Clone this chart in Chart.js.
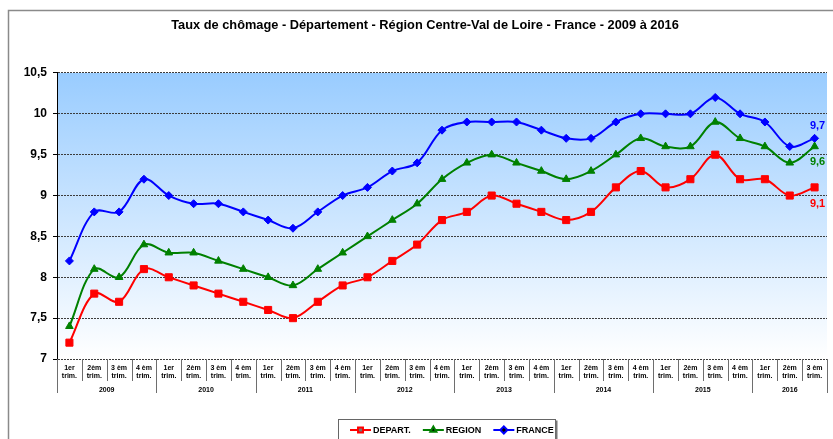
<!DOCTYPE html>
<html lang="fr">
<head>
  <meta charset="UTF-8">
  <title>Taux de chômage</title>
  <script src="https://cdn.jsdelivr.net/npm/chart.js@4"></script>
  <style>
    html, body { margin: 0; padding: 0; background: #fff; }
    #wrap { width: 833px; height: 439px; }
  </style>
</head>
<body>
  <div id="wrap"><canvas id="chart" width="833" height="439"></canvas></div>

  <script>
    // data
    const years = ['2009', '2010', '2011', '2012', '2013', '2014', '2015', '2016'];
    const quarterLabels = [['1er', 'trim.'], ['2èm', 'trim.'], ['3 èm', 'trim.'], ['4 èm', 'trim.']];
    const departValues = [7.2, 7.8, 7.7, 8.1, 8.0, 7.9, 7.8, 7.7, 7.6, 7.5, 7.7, 7.9, 8.0, 8.2, 8.4, 8.7,
                          8.8, 9.0, 8.9, 8.8, 8.7, 8.8, 9.1, 9.3, 9.1, 9.2, 9.5, 9.2, 9.2, 9.0, 9.1];
    const regionValues = [7.4, 8.1, 8.0, 8.4, 8.3, 8.3, 8.2, 8.1, 8.0, 7.9, 8.1, 8.3, 8.5, 8.7, 8.9, 9.2,
                          9.4, 9.5, 9.4, 9.3, 9.2, 9.3, 9.5, 9.7, 9.6, 9.6, 9.9, 9.7, 9.6, 9.4, 9.6];
    const franceValues = [8.2, 8.8, 8.8, 9.2, 9.0, 8.9, 8.9, 8.8, 8.7, 8.6, 8.8, 9.0, 9.1, 9.3, 9.4, 9.8,
                          9.9, 9.9, 9.9, 9.8, 9.7, 9.7, 9.9, 10.0, 10.0, 10.0, 10.2, 10.0, 9.9, 9.6, 9.7];
    const yMin = 7, yMax = 10.5, yStep = 0.5;

    // one category per quarter, 2009 T1 .. 2016 T3
    const categories = [];
    years.forEach(() => quarterLabels.forEach(q => {
      if (categories.length < departValues.length) categories.push(q);
    }));

    const FONT = 'Arial, "Liberation Sans", sans-serif';
    const fmt = v => String(v).replace('.', ',');

    // offset of the value label next to the last point (px, + = below)
    const endLabelOffsets = [17, 15, -12];

    const backgroundPlugin = {
      id: 'background',
      beforeDraw(chart) {
        const { ctx, chartArea: a } = chart;
        ctx.save();
        ctx.fillStyle = '#fff';
        ctx.fillRect(0, 0, chart.width, chart.height);
        // outer frame
        ctx.strokeStyle = '#8a8a8a';
        ctx.lineWidth = 1.5;
        ctx.strokeRect(8.5, 10.5, chart.width + 10, chart.height + 10);
        // plot area gradient
        const g = ctx.createLinearGradient(0, a.top, 0, a.bottom);
        g.addColorStop(0, '#99CCFF');
        g.addColorStop(1, '#FFFFFF');
        ctx.fillStyle = g;
        ctx.fillRect(a.left, a.top, a.right - a.left, a.bottom - a.top);
        ctx.restore();
      }
    };

    const axisExtrasPlugin = {
      id: 'axisExtras',
      afterDraw(chart) {
        const { ctx, chartArea: a } = chart;
        const xs = chart.scales.x;
        const n = categories.length;
        const half = (xs.getPixelForValue(1) - xs.getPixelForValue(0)) / 2;

        ctx.save();
        // category / year separators
        ctx.strokeStyle = '#6e6e6e';
        ctx.lineWidth = 1;
        for (let i = 0; i <= n; i++) {
          const x = Math.round(i < n ? xs.getPixelForValue(i) - half : xs.getPixelForValue(n - 1) + half) + 0.5;
          const isYear = i % 4 === 0 || i === n;
          ctx.beginPath();
          ctx.moveTo(x, a.bottom);
          ctx.lineTo(x, a.bottom + (isYear ? 34 : 22));
          ctx.stroke();
        }
        // year labels
        ctx.fillStyle = '#000';
        ctx.font = 'bold 7px ' + FONT;
        ctx.textAlign = 'center';
        ctx.textBaseline = 'middle';
        years.forEach((y, k) => {
          const first = k * 4;
          const last = Math.min(first + 3, n - 1);
          if (first >= n) return;
          const x = (xs.getPixelForValue(first) + xs.getPixelForValue(last)) / 2;
          ctx.fillText(y, x, a.bottom + 31);
        });

        // value labels at the end of each series
        ctx.font = 'bold 11px ' + FONT;
        chart.data.datasets.forEach((ds, i) => {
          const meta = chart.getDatasetMeta(i);
          const last = meta.data.length - 1;
          const pt = meta.data[last];
          ctx.fillStyle = ds.borderColor;
          ctx.fillText(fmt(ds.data[last]), pt.x + 3, pt.y + endLabelOffsets[i]);
        });

        // legend box
        const bx = 338.5, by = 419.5;
        ctx.strokeStyle = '#666';
        ctx.lineWidth = 1;
        ctx.strokeRect(bx, by, 217, 30);
        ctx.fillStyle = '#777';
        ctx.fillRect(bx + 217, by + 1, 2, 30);
        ctx.font = 'bold 9px ' + FONT;
        ctx.textAlign = 'left';
        let cx = 350;
        const cy = 430;
        chart.data.datasets.forEach(ds => {
          ctx.strokeStyle = ds.borderColor;
          ctx.lineWidth = 2;
          ctx.beginPath();
          ctx.moveTo(cx, cy);
          ctx.lineTo(cx + 21, cy);
          ctx.stroke();
          Chart.helpers.drawPoint(ctx, {
            pointStyle: ds.pointStyle, radius: 3.5, borderWidth: 1, rotation: 0
          }, cx + 10.5, cy);
          ctx.fillStyle = '#000';
          ctx.fillText(ds.label, cx + 23, cy + 0.5);
          cx += 23 + ctx.measureText(ds.label).width + 12;
        });
        ctx.restore();
      }
    };

    function series(label, data, color, pointStyle, radius) {
      return {
        label: label,
        data: data,
        borderColor: color,
        backgroundColor: color,
        pointBackgroundColor: color,
        pointBorderColor: color,
        pointStyle: pointStyle,
        pointRadius: radius,
        pointBorderWidth: 1,
        borderWidth: 2,
        tension: 0.35
      };
    }

    new Chart(document.getElementById('chart'), {
      type: 'line',
      data: {
        labels: categories,
        datasets: [
          series('DEPART.', departValues, '#FF0000', 'rect', 5),
          series('REGION', regionValues, '#008000', 'triangle', 4.4),
          series('FRANCE', franceValues, '#0000FF', 'rectRot', 4)
        ]
      },
      options: {
        responsive: false,
        animation: false,
        devicePixelRatio: 1,
        layout: { padding: { left: 18, right: 1, top: 0, bottom: 0 } },
        scales: {
          x: {
            offset: true,
            afterFit: s => { s.height = 80; },
            grid: { display: false, drawTicks: false },
            border: { display: false },
            ticks: {
              autoSkip: false, maxRotation: 0, minRotation: 0, padding: 5,
              color: '#000',
              font: { family: FONT, size: 7, weight: 'bold', lineHeight: 1.15 }
            }
          },
          y: {
            min: yMin,
            max: yMax,
            afterFit: s => { s.width = 39; },
            ticks: {
              stepSize: yStep, padding: 6, color: '#000',
              font: { family: FONT, size: 12, weight: 'bold' },
              callback: v => fmt(v)
            },
            grid: { color: '#3c3c3c', lineWidth: 1, tickLength: 4, tickColor: '#000', tickBorderDash: [] },
            border: { display: true, color: '#000', width: 1, dash: [2, 1] }
          }
        },
        plugins: {
          legend: { display: false },
          tooltip: { enabled: false },
          title: {
            display: true,
            text: 'Taux de chômage - Département - Région Centre-Val de Loire - France - 2009 à 2016',
            color: '#000',
            font: { family: FONT, size: 12.8, weight: 'bold' },
            padding: { top: 17.5, bottom: 40.1 }
          }
        }
      },
      plugins: [backgroundPlugin, axisExtrasPlugin]
    });
  </script>
</body>
</html>
